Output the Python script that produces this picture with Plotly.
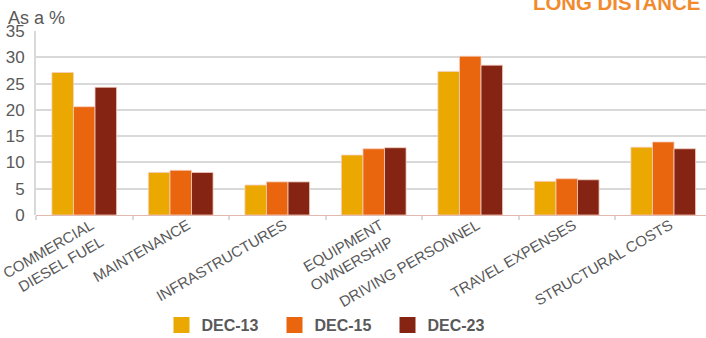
import plotly.graph_objects as go

categories = ["COMMERCIAL<br>DIESEL FUEL", "MAINTENANCE", "INFRASTRUCTURES",
              "EQUIPMENT<br>OWNERSHIP", "DRIVING PERSONNEL", "TRAVEL EXPENSES",
              "STRUCTURAL COSTS"]
dec13 = [27.1, 8.1, 5.7, 11.4, 27.3, 6.4, 12.9]
dec15 = [20.6, 8.5, 6.3, 12.6, 30.2, 6.9, 13.9]
dec23 = [24.3, 8.1, 6.3, 12.8, 28.5, 6.7, 12.6]
series_names = ["DEC-13", "DEC-15", "DEC-23"]
colors = ["#EAA800", "#E9660E", "#852412"]

FONT = "Arial, Liberation Sans, sans-serif"
GRAY = "#595959"

fig = go.Figure()
for name, vals, col in zip(series_names, [dec13, dec15, dec23], colors):
    fig.add_trace(go.Bar(x=categories, y=vals, name=name, marker_color=col,
                         marker_line=dict(color="#F5CFC0", width=0.8),
                         showlegend=False))
    fig.add_trace(go.Scatter(x=[None], y=[None], mode="markers", name=name,
                             marker=dict(symbol="square", size=16, color=col),
                             showlegend=True))

W, H = 706, 338
L, T, B = 36, 31, 123
plot_w = W - L
plot_h = H - T - B
cat_px = 96.5
xmax = -0.5 + plot_w / cat_px
base = T + plot_h  # pixel row of the zero line

fig.update_layout(
    width=W, height=H,
    margin=dict(l=L, r=0, t=T, b=B, autoexpand=False),
    plot_bgcolor="white", paper_bgcolor="white",
    barmode="group", bargap=0.33, bargroupgap=0,
    font=dict(family=FONT, color=GRAY),
    xaxis=dict(range=[-0.5, xmax], tickangle=-30, tickfont=dict(size=15, color=GRAY),
               ticks="outside", tickson="boundaries", ticklen=4, tickwidth=2,
               tickcolor="#D9D9D9", showgrid=False, showline=False, automargin=False,
               ticklabelshift=7, ticklabelstandoff=-2),
    yaxis=dict(range=[0, 35], dtick=5, tickfont=dict(size=17, color=GRAY),
               showgrid=True, gridcolor="#D9D9D9", gridwidth=2,
               showline=True, linecolor="#D9D9D9", linewidth=2,
               zeroline=True, zerolinecolor="#E3B8AE", zerolinewidth=1,
               ticks="", ticklabelstandoff=6, automargin=False),
    legend=dict(orientation="h", x=(331 - L) / plot_w, xanchor="center",
                y=(base - 325) / plot_h, yanchor="middle",
                font=dict(size=16, color=GRAY, family=FONT, weight="bold"),
                entrywidth=68, entrywidthmode="pixels"),
    annotations=[
        dict(text="As a %", xref="paper", yref="paper", x=(6 - L) / plot_w,
             y=(base - 30) / plot_h, xanchor="left", yanchor="bottom", showarrow=False,
             font=dict(size=18, color=GRAY, family=FONT)),
        dict(text="<b>LONG DISTANCE</b>", xref="paper", yref="paper",
             x=(531 - L) / plot_w, y=(base - 16) / plot_h, xanchor="left", yanchor="bottom",
             showarrow=False, font=dict(size=20.4, color="#F28A2E", family=FONT)),
    ],
)

fig.write_html("out.html", config={"displayModeBar": False},
               post_script="document.body.style.margin='0px';")
